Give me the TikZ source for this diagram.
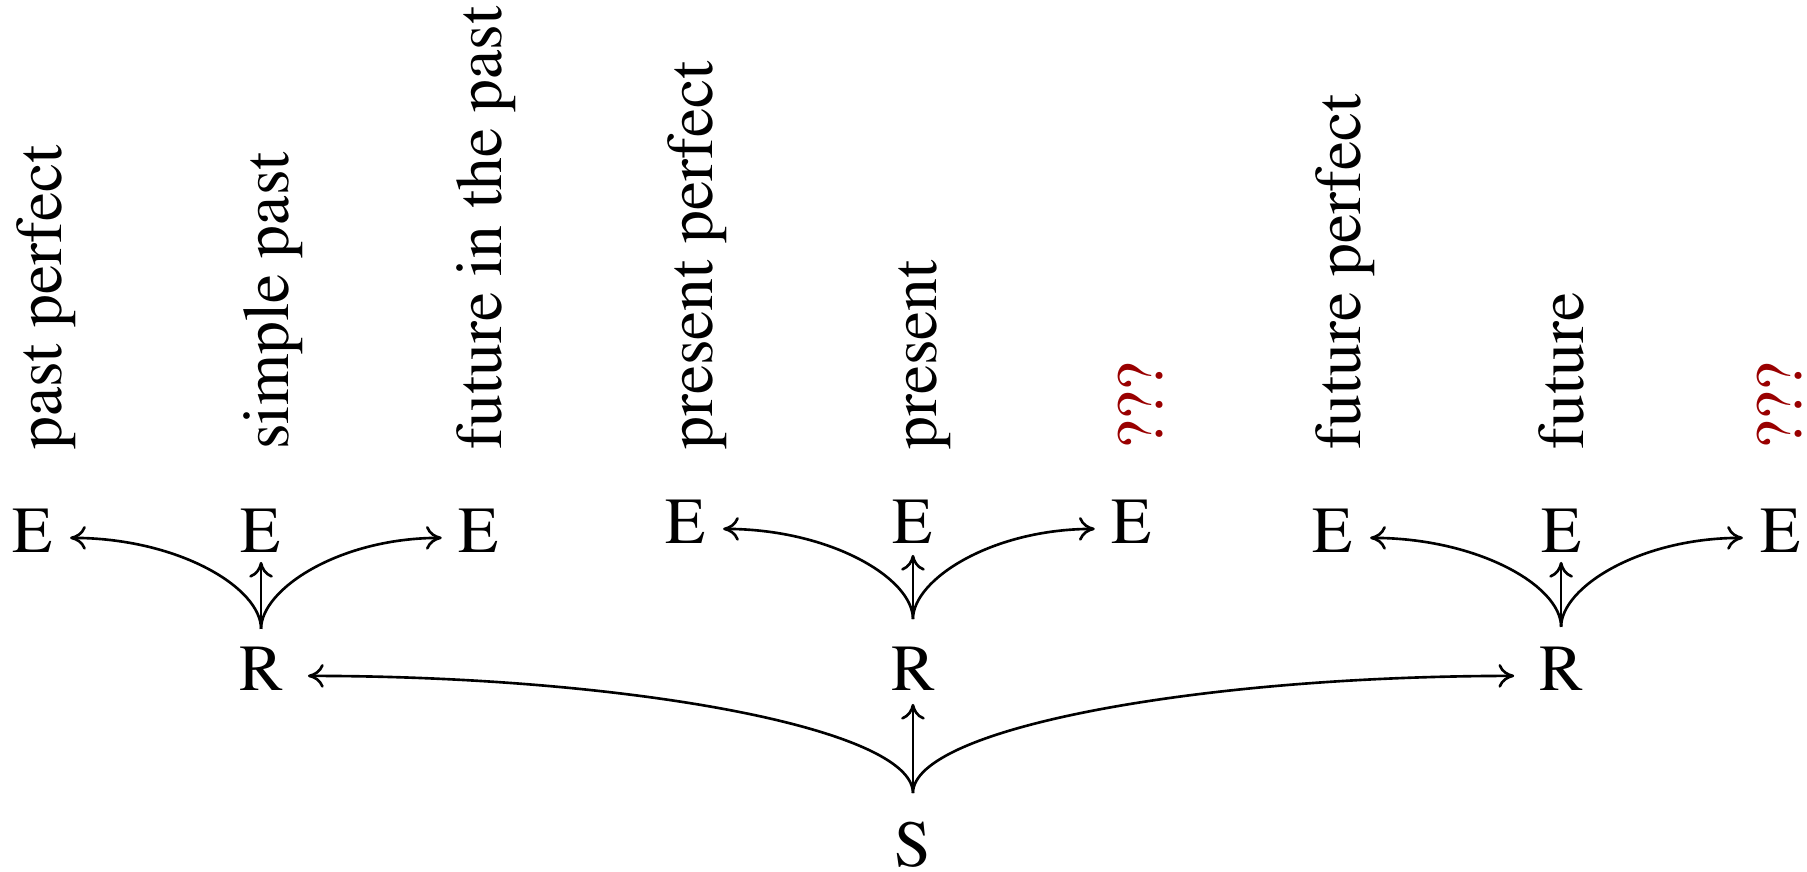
\documentclass[tikz,border=0pt]{standalone}
\usepackage[T1]{fontenc}
\usepackage{times}
\usetikzlibrary{arrows.meta}
\colorlet{unknown}{red!60!black}
\tikzset{
	>={To[length=2.4pt, width=3.6pt]},
	letter/.style={inner xsep=2.4pt, inner ysep=0pt, text depth=2.2pt, anchor=base},
	tense/.style={rotate=90, anchor=base west, inner sep=0pt},
	branch/.style={->, out looseness=0.5, in looseness=1.3},
	reach/.style={->, out looseness=0.27, in looseness=1.32},
}

\begin{document}
\begin{tikzpicture}
			\useasboundingbox (0,0) rectangle (9.663,-4.663);
			
			%%%%% TENSES %%%%%
			\node[tense] (l11) at (0.328,-2.412) {past perfect};
			\node[tense] (l12) at (1.545,-2.412) {simple past};
			\node[tense] (l13) at (2.681,-2.412) {future in the past};
			\node[tense] (l21) at (3.808,-2.412) {present perfect};
			\node[tense] (l22) at (5.009,-2.412) {present};
			\node[tense, text=unknown] (l23) at (6.217,-2.412) {???};
			\node[tense] (l31) at (7.274,-2.412) {future perfect};
			\node[tense] (l32) at (8.465,-2.412) {future};
			\node[tense, text=unknown] (l33) at (9.635,-2.412) {???};
			
			%%%%% E, R, S %%%%%
			\node[letter] (e11) at (0.176,-2.952) {E};
			\node[letter] (e12) at (1.396,-2.952) {E};
			\node[letter] (e13) at (2.561,-2.952) {E};
			\node[letter] (e21) at (3.668,-2.904) {E};
			\node[letter] (e22) at (4.882,-2.904) {E};
			\node[letter] (e23) at (6.053,-2.904) {E};
			\node[letter] (e31) at (7.128,-2.952) {E};
			\node[letter] (e32) at (8.348,-2.952) {E};
			\node[letter] (e33) at (9.519,-2.952) {E};
			
			\node[letter, inner xsep=3.6pt] (r1) at (1.396,-3.690) {R};
			\node[letter, inner xsep=3.6pt] (r2) at (4.882,-3.690) {R};
			\node[letter, inner xsep=3.6pt] (r3) at (8.348,-3.690) {R};
			
			\node[letter] (s) at (4.882,-4.631) {S};
			
			\coordinate (b1) at ([yshift=9.3pt]r1.base);
			\coordinate (b2) at ([yshift=10.8pt]r2.base);
			\coordinate (b3) at ([yshift=9.6pt]r3.base);
			\coordinate (b0) at ([yshift=11.1pt]s.base);
			
			%%%%% ARROWS %%%%%
			\draw[branch] (b1) to[out=90, in=0] (e11);
			\draw[->] (b1) -- ([yshift=-1.5pt]e12.base);
			\draw[branch] (b1) to[out=90, in=180] (e13);
			
			\draw[branch] (b2) to[out=90, in=0] (e21);
			\draw[->] (b2) -- ([yshift=-1.8pt]e22.base);
			\draw[branch] (b2) to[out=90, in=180] (e23);
			
			\draw[branch] (b3) to[out=90, in=0] (e31);
			\draw[->] (b3) -- ([yshift=-1.5pt]e32.base);
			\draw[branch] (b3) to[out=90, in=180] (e33);
			
			\draw[reach] (b0) to[out=90, in=0] (r1);
			\draw[->] (b0) -- ([yshift=-2.1pt]r2.base);
			\draw[reach] (b0) to[out=90, in=180] (r3);
\end{tikzpicture}
\end{document}
